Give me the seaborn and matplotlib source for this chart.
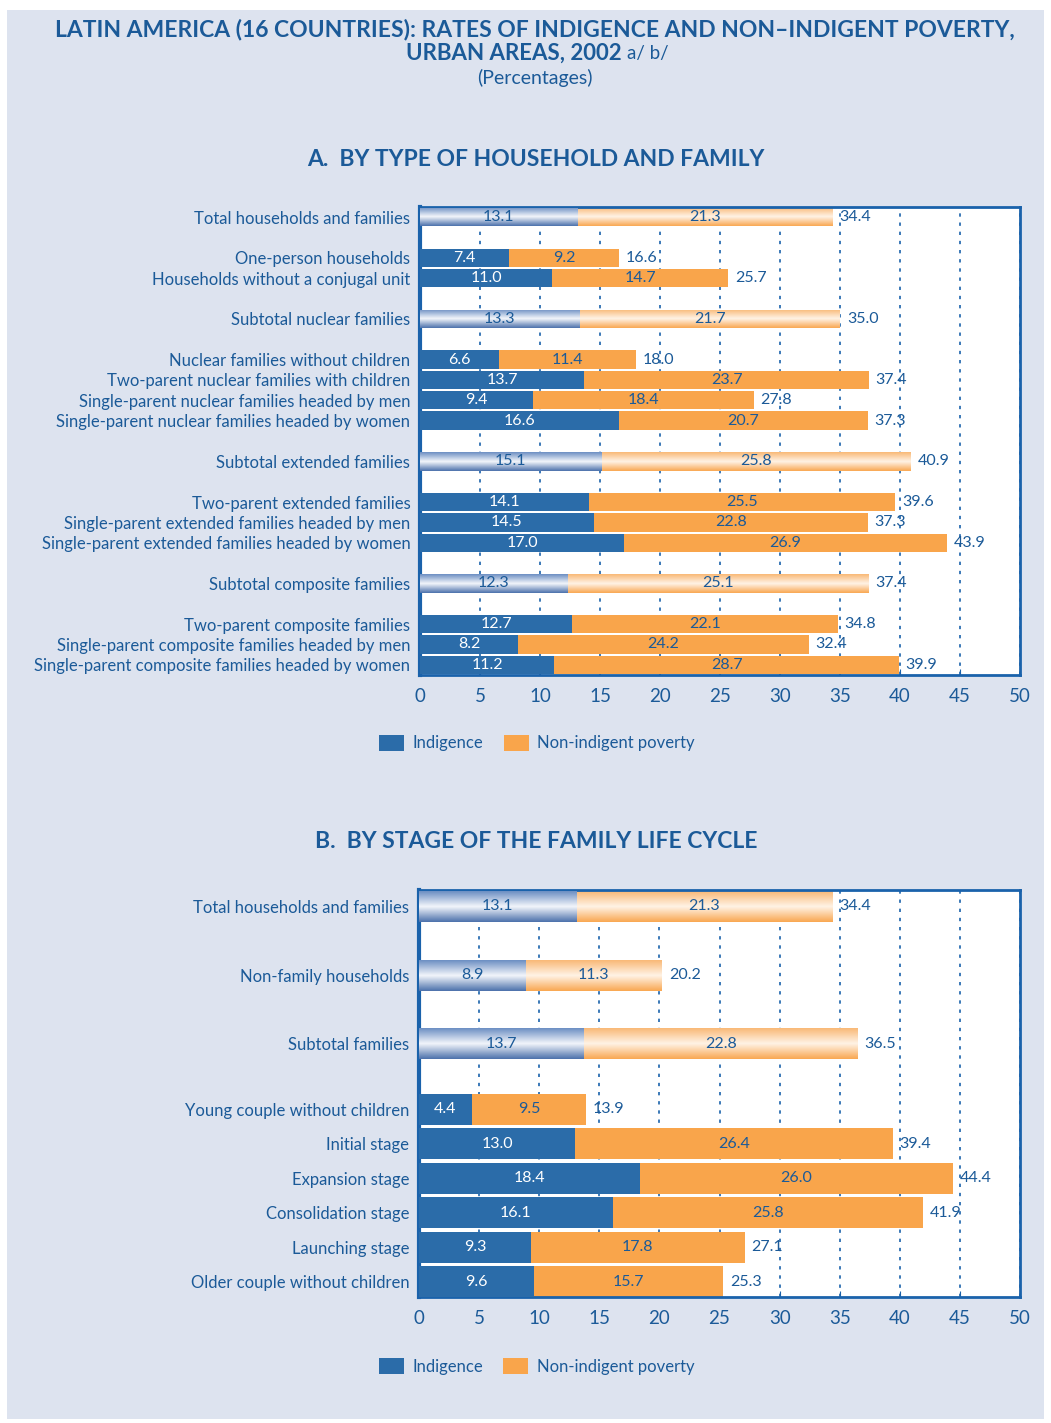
import numpy as np
import pandas as pd
import seaborn as sns
import matplotlib.pyplot as plt
from matplotlib.colors import LinearSegmentedColormap
from matplotlib.patches import Rectangle

# Panel A: by type of household and family
cats_a = ["Total households and families", "One-person households",
          "Households without a conjugal unit", "Subtotal nuclear families",
          "Nuclear families without children", "Two-parent nuclear families with children",
          "Single-parent nuclear families headed by men", "Single-parent nuclear families headed by women",
          "Subtotal extended families", "Two-parent extended families",
          "Single-parent extended families headed by men", "Single-parent extended families headed by women",
          "Subtotal composite families", "Two-parent composite families",
          "Single-parent composite families headed by men", "Single-parent composite families headed by women"]
indig_a = [13.1, 7.4, 11.0, 13.3, 6.6, 13.7, 9.4, 16.6, 15.1, 14.1, 14.5, 17.0, 12.3, 12.7, 8.2, 11.2]
nonind_a = [21.3, 9.2, 14.7, 21.7, 11.4, 23.7, 18.4, 20.7, 25.8, 25.5, 22.8, 26.9, 25.1, 22.1, 24.2, 28.7]
total_a = [34.4, 16.6, 25.7, 35.0, 18.0, 37.4, 27.8, 37.3, 40.9, 39.6, 37.3, 43.9, 37.4, 34.8, 32.4, 39.9]
pos_a = [0, 2, 3, 5, 7, 8, 9, 10, 12, 14, 15, 16, 18, 20, 21, 22]
shiny_a = [0, 3, 8, 12]

# Panel B: by stage of the family life cycle
cats_b = ["Total households and families", "Non-family households", "Subtotal families",
          "Young couple without children", "Initial stage", "Expansion stage",
          "Consolidation stage", "Launching stage", "Older couple without children"]
indig_b = [13.1, 8.9, 13.7, 4.4, 13.0, 18.4, 16.1, 9.3, 9.6]
nonind_b = [21.3, 11.3, 22.8, 9.5, 26.4, 26.0, 25.8, 17.8, 15.7]
total_b = [34.4, 20.2, 36.5, 13.9, 39.4, 44.4, 41.9, 27.1, 25.3]
pos_b = [0, 2, 4, 5.9, 6.9, 7.9, 8.9, 9.9, 10.9]
shiny_b = [0, 1, 2]

BG = '#dde3ef'
BLUE = '#2b6ca9'
ORANGE = '#f9a54b'
TXT = '#1b5a98'
EDGE = '#1a62ab'

plt.rcParams['font.family'] = ['Lato', 'DejaVu Sans']

cmap_b = LinearSegmentedColormap.from_list('b', ['#6d8fc3', '#f3f6fb', '#4d72ac'])
cmap_o = LinearSegmentedColormap.from_list('o', ['#f9b977', '#fff3e6', '#f9a853'])
grad = np.linspace(0, 1, 64).reshape(-1, 1)


def panel(ax, cats, pos, indig, nonind, total, shiny, ylim, leg_xy):
    df = pd.DataFrame({'pos': pos, 'indig': indig, 'total': total})
    sns.barplot(data=df, x='total', y='pos', orient='y', native_scale=True, color=ORANGE,
                saturation=1, width=0.9, errorbar=None, zorder=1, ax=ax)
    sns.barplot(data=df, x='indig', y='pos', orient='y', native_scale=True, color=BLUE,
                saturation=1, width=0.9, errorbar=None, zorder=3, ax=ax)
    tot_bars, ind_bars = ax.containers[0], ax.containers[1]

    # shiny tube look on the total / subtotal rows
    for i in shiny:
        for bar, cm, z in ((tot_bars[i], cmap_o, 2), (ind_bars[i], cmap_b, 4)):
            bb = bar.get_bbox()
            im = ax.imshow(grad, cmap=cm, extent=(bb.x0, bb.x1, bb.y1, bb.y0),
                           aspect='auto', zorder=z, interpolation='bilinear')
            im.set_clip_path(bar)

    for i in range(len(cats)):
        tb, ib = tot_bars[i], ind_bars[i]
        bb_t, bb_i = tb.get_bbox(), ib.get_bbox()
        yc = (bb_t.y0 + bb_t.y1) / 2
        ax.text((bb_i.x0 + bb_i.x1) / 2, yc, f'{indig[i]:.1f}', ha='center', va='center',
                color=TXT if i in shiny else 'white', fontsize=11.5, zorder=6)
        ax.text((bb_i.x1 + bb_t.x1) / 2, yc, f'{nonind[i]:.1f}', ha='center', va='center',
                color=TXT, fontsize=11.5, zorder=6)
        ax.annotate(f'{total[i]:.1f}', xy=(bb_t.x1, yc), xytext=(5, 0), textcoords='offset points',
                    ha='left', va='center', color=TXT, fontsize=11.5, zorder=6)

    ax.set_xlim(0, 50)
    ax.set_ylim(*ylim)
    ax.set_xticks(range(0, 51, 5))
    ax.set_yticks(pos, cats)
    ax.set_xlabel('')
    ax.set_ylabel('')
    ax.set_facecolor('white')
    ax.grid(axis='x', color=EDGE, linestyle=(0, (2, 3.5)), linewidth=1.2)
    ax.grid(axis='y', visible=False)
    ax.set_axisbelow(True)
    ax.tick_params(axis='x', direction='in', length=4, color=EDGE, labelcolor=TXT,
                   labelsize=13.5, pad=9)
    ax.tick_params(axis='y', length=0, labelcolor=TXT, labelsize=12, pad=7)
    for s in ax.spines.values():
        s.set_color(EDGE)
        s.set_linewidth(2)
    ax.spines['left'].set_linewidth(3)
    ax.legend(handles=[ind_bars, tot_bars], labels=['Indigence', 'Non-indigent poverty'],
              loc='center', bbox_to_anchor=leg_xy, ncol=2, frameon=False, fontsize=12,
              labelcolor=TXT, handlelength=1.5, handleheight=1.1, handletextpad=0.5,
              columnspacing=1.2)


W, H = 1051, 1423
fig = plt.figure(figsize=(W / 100, H / 100), dpi=100)
fig.patch.set_facecolor('white')
fig.patches.append(Rectangle((7 / W, 4 / H), 1037 / W, 1409 / H, transform=fig.transFigure,
                             facecolor=BG, edgecolor='none', zorder=-10))

ax_a = fig.add_axes([420 / W, 1 - 675 / H, 600 / W, 468 / H])
panel(ax_a, cats_a, pos_a, indig_a, nonind_a, total_a, shiny_a, (22.5, -0.5), (0.195, -0.145))

ax_b = fig.add_axes([419 / W, 1 - 1297 / H, 601 / W, 407 / H])
panel(ax_b, cats_b, pos_b, indig_b, nonind_b, total_b, shiny_b, (11.35, -0.47), (0.196, -0.17))

fig.text(535 / W, 1 - 30 / H, 'LATIN AMERICA (16 COUNTRIES): RATES OF INDIGENCE AND NON\u2013INDIGENT POVERTY,',
         ha='center', va='center', fontsize=16.5, fontweight='bold', color=TXT)
fig.text(622 / W, 1 - 53 / H, 'URBAN AREAS, 2002', ha='right', va='center', fontsize=16,
         fontweight='bold', color=TXT)
fig.text(627 / W, 1 - 53 / H, 'a/ b/', ha='left', va='center', fontsize=13.5, color=TXT)
fig.text(535 / W, 1 - 78 / H, '(Percentages)', ha='center', va='center', fontsize=14, color=TXT)
fig.text(536 / W, 1 - 159 / H, 'A.  BY TYPE OF HOUSEHOLD AND FAMILY', ha='center', va='center',
         fontsize=16.5, fontweight='bold', color=TXT)
fig.text(536 / W, 1 - 842 / H, 'B.  BY STAGE OF THE FAMILY LIFE CYCLE', ha='center', va='center',
         fontsize=16.5, fontweight='bold', color=TXT)

fig.savefig('out.png', dpi=100, facecolor=fig.get_facecolor())
